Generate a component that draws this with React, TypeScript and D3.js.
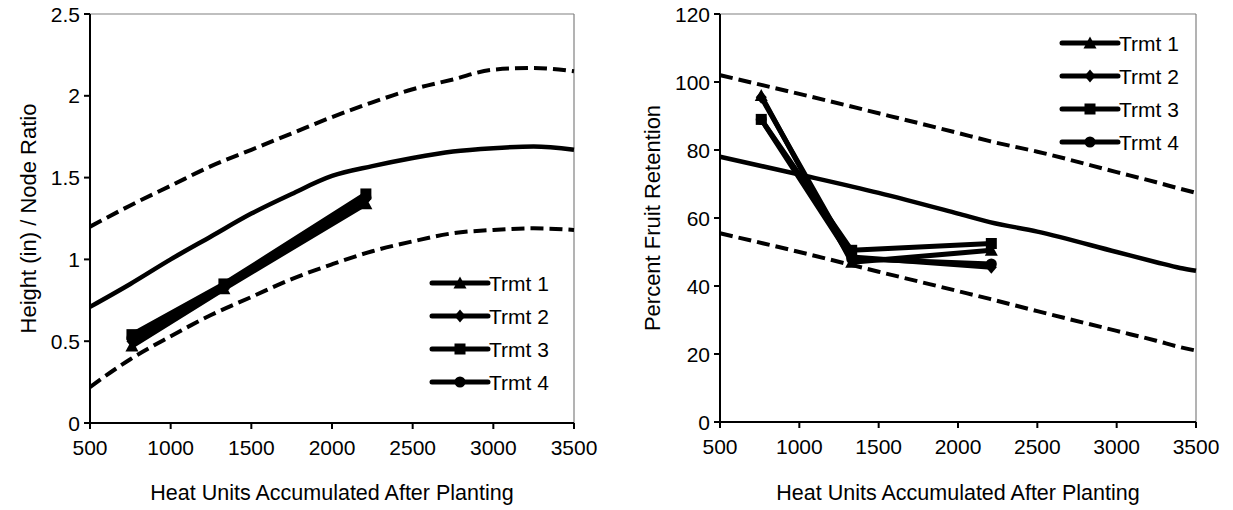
import React from "react";
import * as d3 from "d3";

// ---------- Data ----------
const heatFit = [500, 750, 1000, 1250, 1500, 1750, 2000, 2250, 2500, 2750, 3000, 3250, 3500];
const heightUpper = [1.2, 1.33, 1.45, 1.57, 1.67, 1.77, 1.87, 1.96, 2.04, 2.1, 2.16, 2.17, 2.15];
const heightMid = [0.71, 0.85, 1.0, 1.14, 1.28, 1.4, 1.51, 1.57, 1.62, 1.66, 1.68, 1.69, 1.67];
const heightLower = [0.22, 0.39, 0.53, 0.66, 0.77, 0.88, 0.97, 1.05, 1.11, 1.16, 1.18, 1.19, 1.18];

const retentionHeat = [500, 1000, 1500, 2000, 2200, 2500, 3000, 3250, 3400, 3500];
const retentionUpper = [102, 96.5, 90.8, 85, 82.6, 79.5, 73.5, 70.5, 68.6, 67.4];
const retentionMid = [78, 72.8, 67.4, 61.3, 58.8, 56, 50, 47, 45.3, 44.5];
const retentionLower = [55.5, 50, 44.2, 38.5, 36.2, 32.6, 26.8, 23.9, 22, 21];

const sampleHeat = [760, 1330, 2210];
const treatments = ["Trmt 1", "Trmt 2", "Trmt 3", "Trmt 4"];
const heightTrmt1 = [0.47, 0.82, 1.34];
const heightTrmt2 = [0.5, 0.84, 1.37];
const heightTrmt3 = [0.54, 0.85, 1.4];
const heightTrmt4 = [0.52, 0.83, 1.38];
const retTrmt1 = [96, 47, 50.5];
const retTrmt2 = [95.5, 48.5, 45.5];
const retTrmt3 = [89, 50.5, 52.5];
const retTrmt4 = [89, 48, 46.5];

const xTicks = [500, 1000, 1500, 2000, 2500, 3000, 3500];
const heightTicks = [0, 0.5, 1, 1.5, 2, 2.5];
const retentionTicks = [0, 20, 40, 60, 80, 100, 120];
const markerShapes = ["triangle", "diamond", "square", "circle"];

const FONT = "'Liberation Sans', Arial, sans-serif";
const FS = 21;
const TITLE_FS = 21.5;
const YTITLE_FS = 22;

type PanelProps = {
  left: number; right: number; top: number; bottom: number;
  yMax: number; yTicks: number[]; yTitle: string; yTitleX: number;
  fitHeat: number[]; upper: number[]; mid: number[]; lower: number[];
  trmt: number[][];
  legendX: number; legendY: number;
  curve: d3.CurveFactory;
};

function Marker({ shape, x, y }: { shape: string; x: number; y: number }) {
  const s = 5.5;
  if (shape === "triangle")
    return <path d={`M${x},${y - s - 1}L${x + s + 1},${y + s}L${x - s - 1},${y + s}Z`} fill="#000" />;
  if (shape === "diamond")
    return <path d={`M${x},${y - s - 1}L${x + s},${y}L${x},${y + s + 1}L${x - s},${y}Z`} fill="#000" />;
  if (shape === "square")
    return <rect x={x - s} y={y - s} width={2 * s} height={2 * s} fill="#000" />;
  return <circle cx={x} cy={y} r={s} fill="#000" />;
}

function Panel(p: PanelProps) {
  const x = d3.scaleLinear().domain([500, 3500]).range([p.left, p.right]);
  const y = d3.scaleLinear().domain([0, p.yMax]).range([p.bottom, p.top]);
  const fitLine = d3.line<number>().x((_, i) => x(p.fitHeat[i])).y((d) => y(d)).curve(p.curve);
  const tLine = d3.line<number>().x((_, i) => x(sampleHeat[i])).y((d) => y(d));
  return (
    <g>
      <defs>
        <clipPath id={`clip${p.left}`}>
          <rect x={p.left - 2} y={p.top} width={p.right - p.left + 6} height={p.bottom - p.top} />
        </clipPath>
      </defs>
      <line x1={p.left} x2={p.right} y1={p.top} y2={p.top} stroke="#808080" strokeWidth={1.2} />
      <line x1={p.right} x2={p.right} y1={p.top} y2={p.bottom} stroke="#808080" strokeWidth={1.2} />
      <g clipPath={`url(#clip${p.left})`}>
        <path d={fitLine(p.upper) || ""} fill="none" stroke="#000" strokeWidth={4} strokeDasharray="13,6" />
        <path d={fitLine(p.lower) || ""} fill="none" stroke="#000" strokeWidth={4} strokeDasharray="13,6" />
        <path d={fitLine(p.mid) || ""} fill="none" stroke="#000" strokeWidth={4.5} />
      </g>
      {p.trmt.map((vals, k) => (
        <g key={k}>
          <path d={tLine(vals) || ""} fill="none" stroke="#000" strokeWidth={5} strokeLinejoin="round" />
          {vals.map((v, i) => (
            <Marker key={i} shape={markerShapes[k]} x={x(sampleHeat[i])} y={y(v)} />
          ))}
        </g>
      ))}
      <line x1={p.left} x2={p.left} y1={p.top} y2={p.bottom} stroke="#000" strokeWidth={2} />
      <line x1={p.left} x2={p.right} y1={p.bottom} y2={p.bottom} stroke="#000" strokeWidth={2} />
      {p.yTicks.map((t) => (
        <g key={t}>
          <line x1={p.left - 6} x2={p.left} y1={y(t)} y2={y(t)} stroke="#000" strokeWidth={2} />
          <text x={p.left - 10} y={y(t) + 7.5} textAnchor="end" fontFamily={FONT} fontSize={FS}>{t}</text>
        </g>
      ))}
      {xTicks.map((t) => (
        <g key={t}>
          <line x1={x(t)} x2={x(t)} y1={p.bottom} y2={p.bottom + 6} stroke="#000" strokeWidth={2} />
          <text x={x(t)} y={p.bottom + 32} textAnchor="middle" fontFamily={FONT} fontSize={FS}>{t}</text>
        </g>
      ))}
      <text x={(p.left + p.right) / 2} y={500} textAnchor="middle" fontFamily={FONT} fontSize={TITLE_FS}>
        Heat Units Accumulated After Planting
      </text>
      <text transform={`translate(${p.yTitleX},${(p.top + p.bottom) / 2}) rotate(-90)`} textAnchor="middle"
        fontFamily={FONT} fontSize={YTITLE_FS}>{p.yTitle}</text>
      {treatments.map((name, k) => {
        const ly = p.legendY + k * 33;
        return (
          <g key={name}>
            <line x1={p.legendX} x2={p.legendX + 56} y1={ly} y2={ly} stroke="#000" strokeWidth={5} strokeLinecap="round" />
            <Marker shape={markerShapes[k]} x={p.legendX + 28} y={ly} />
            <text x={p.legendX + 57} y={ly + 7.5} fontFamily={FONT} fontSize={FS}>{name}</text>
          </g>
        );
      })}
    </g>
  );
}

export default function App() {
  return (
    <svg width={1233} height={510} style={{ position: "absolute", left: 0, top: 0, background: "#fff" }}>
      <rect width={1233} height={510} fill="#fff" />
      <Panel left={90} right={574} top={14} bottom={423} yMax={2.5} yTicks={heightTicks}
        yTitle="Height (in) / Node Ratio" yTitleX={36}
        fitHeat={heatFit} upper={heightUpper} mid={heightMid} lower={heightLower}
        trmt={[heightTrmt1, heightTrmt2, heightTrmt3, heightTrmt4]}
        legendX={432} legendY={283} curve={d3.curveMonotoneX} />
      <Panel left={720} right={1196} top={14} bottom={422} yMax={120} yTicks={retentionTicks}
        yTitle="Percent Fruit Retention" yTitleX={660}
        fitHeat={retentionHeat} upper={retentionUpper} mid={retentionMid} lower={retentionLower}
        trmt={[retTrmt1, retTrmt2, retTrmt3, retTrmt4]}
        legendX={1062} legendY={43} curve={d3.curveMonotoneX} />
    </svg>
  );
}
